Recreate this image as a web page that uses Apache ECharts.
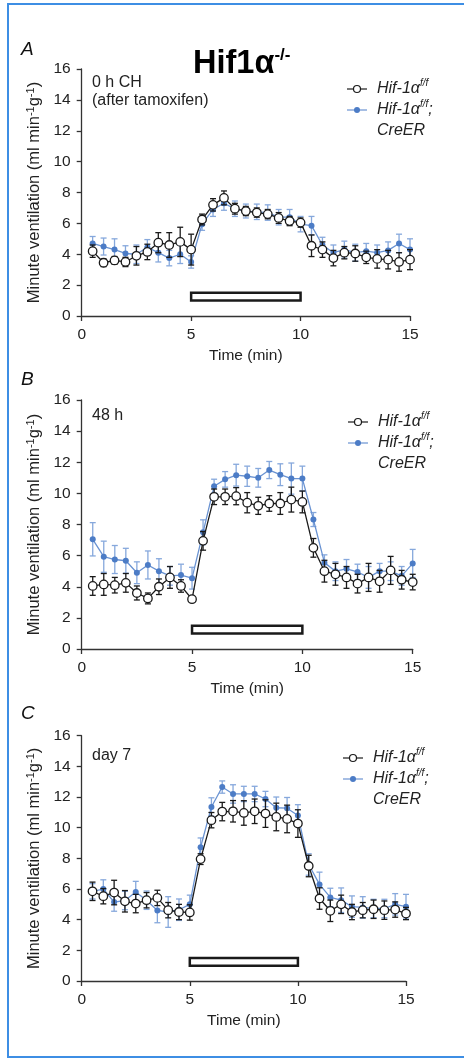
<!DOCTYPE html>
<html>
<head>
<meta charset="utf-8">
<title>Hif1a minute ventilation</title>
<script src="https://cdn.jsdelivr.net/npm/echarts@6/dist/echarts.min.js"></script>
<style>
    html, body { margin: 0; padding: 0; background: #fff; }
    #chart { width: 464px; height: 1062px; }
</style>
</head>
<body>
<div id="chart"></div>
<script>
var times = [0.5, 1, 1.5, 2, 2.5, 3, 3.5, 4, 4.5, 5, 5.5, 6, 6.5, 7, 7.5, 8, 8.5, 9, 9.5, 10,
    10.5, 11, 11.5, 12, 12.5, 13, 13.5, 14, 14.5, 15];

// A: 0 h CH
var ctrlA = [4.2, 3.45, 3.6, 3.5, 3.9, 4.15, 4.75, 4.6, 4.8, 4.3, 6.25, 7.2, 7.65, 6.95, 6.8, 6.7, 6.6, 6.35, 6.15, 6.05,
    4.55, 4.3, 3.75, 4.1, 4.05, 3.8, 3.7, 3.65, 3.5, 3.65];
var ctrlAErr = [0.4, 0.25, 0.25, 0.3, 0.6, 0.5, 0.65, 0.8, 0.95, 1.0, 0.35, 0.4, 0.45, 0.35, 0.3, 0.3, 0.3, 0.35, 0.3, 0.3,
    0.7, 0.5, 0.5, 0.4, 0.5, 0.4, 0.6, 0.6, 0.6, 0.65];
var creA = [4.7, 4.5, 4.3, 4.05, 4.0, 4.45, 4.1, 3.75, 4.0, 3.5, 5.95, 6.9, 7.3, 6.95, 6.8, 6.75, 6.7, 6.4, 6.4, 5.95,
    5.85, 4.6, 4.1, 4.3, 4.1, 4.2, 4.1, 4.25, 4.7, 4.3];
var creAErr = [0.45, 0.55, 0.7, 0.5, 0.6, 0.5, 0.6, 0.5, 0.6, 0.4, 0.4, 0.45, 0.45, 0.5, 0.45, 0.5, 0.5, 0.5, 0.5, 0.5,
    0.6, 0.5, 0.5, 0.55, 0.55, 0.5, 0.5, 0.55, 0.6, 0.7];

// B: 48 h
var ctrlB = [4.05, 4.15, 4.1, 4.25, 3.6, 3.25, 4.0, 4.6, 4.05, 3.2, 6.95, 9.78, 9.78, 9.82, 9.4, 9.2, 9.35, 9.35, 9.6, 9.45,
    6.5, 5.0, 4.8, 4.6, 4.2, 4.6, 4.35, 5.05, 4.45, 4.3];
var ctrlBErr = [0.6, 0.7, 0.5, 0.6, 0.45, 0.35, 0.5, 0.7, 0.4, 0.15, 0.6, 0.5, 0.5, 0.55, 0.65, 0.55, 0.5, 0.7, 0.8, 0.7,
    0.6, 0.7, 0.7, 0.7, 0.6, 0.9, 0.7, 0.9, 0.6, 0.5];
var creB = [7.05, 5.93, 5.75, 5.67, 4.9, 5.4, 5.0, 4.7, 4.75, 4.55, 7.5, 10.46, 10.9, 11.17, 11.1, 11.0, 11.5, 11.2, 10.95, 10.95,
    8.32, 5.55, 5.0, 5.15, 4.95, 4.6, 5.0, 5.0, 4.7, 5.5];
var creBErr = [1.07, 1.0, 0.9, 0.8, 0.7, 0.9, 0.8, 0.6, 0.7, 0.7, 0.8, 0.45, 0.5, 0.7, 0.65, 0.6, 0.55, 0.7, 1.0, 0.8,
    0.45, 0.5, 0.6, 0.6, 0.5, 0.7, 0.5, 0.6, 0.6, 0.9];

// C: day 7
var ctrlC = [5.85, 5.53, 5.77, 5.2, 5.05, 5.27, 5.42, 4.62, 4.5, 4.47, 7.95, 10.49, 11.05, 11.07, 10.96, 11.07, 10.92, 10.7, 10.57, 10.27,
    7.5, 5.38, 4.58, 5.0, 4.5, 4.62, 4.68, 4.62, 4.66, 4.4];
var ctrlCErr = [0.6, 0.5, 0.8, 0.7, 0.6, 0.5, 0.5, 0.5, 0.5, 0.5, 0.35, 0.5, 0.6, 0.7, 0.8, 0.8, 0.9, 0.9, 0.9, 0.9,
    0.7, 0.7, 0.7, 0.6, 0.5, 0.5, 0.6, 0.6, 0.5, 0.4];
var creC = [5.85, 6.0, 5.15, 5.25, 5.8, 5.27, 4.6, 4.5, 4.65, 5.0, 8.73, 11.35, 12.65, 12.2, 12.2, 12.2, 11.87, 11.3, 11.27, 10.8,
    7.6, 6.3, 5.45, 5.27, 4.85, 4.8, 4.73, 4.73, 5.0, 4.85];
var creCErr = [0.5, 0.6, 0.6, 0.6, 0.7, 0.6, 0.8, 1.0, 0.7, 0.6, 0.6, 0.6, 0.4, 0.6, 0.5, 0.5, 0.5, 0.7, 0.7, 0.7,
    0.7, 0.8, 0.6, 0.8, 0.7, 0.7, 0.6, 0.6, 0.7, 0.8];

// hypoxia bar: [start, end, low, high]
var hypoxiaBar = [5, 10, 1.0, 1.5];
var xTicks = [0, 15, 5];   // min, max, step
var yTicks = [0, 16, 2];

var panelLetters = ['A', 'B', 'C'];
var panelNotes = ['0 h CH\n(after tamoxifen)', '48 h', 'day 7'];
var legendNames = ['Hif-1α f/f', 'Hif-1α f/f; CreER'];

var FONT = '"Liberation Sans", Arial, Helvetica, sans-serif';
var BLACK = '#1a1a1a';
var BLUE = '#4c7cc6';
var BLUE_LINE = '#6a93d2';
var BLUE_ERR = '#86a8dc';

var panels = [
    { ctrl: ctrlA, ctrlErr: ctrlAErr, cre: creA, creErr: creAErr,
      grid: { left: 81.7, top: 69, width: 328.3, height: 247 },
      letter: [21, 50], note: [92, 83], legend: [347, 89] },
    { ctrl: ctrlB, ctrlErr: ctrlBErr, cre: creB, creErr: creBErr,
      grid: { left: 81.7, top: 400, width: 331, height: 249 },
      letter: [21, 380], note: [92, 416], legend: [348, 422] },
    { ctrl: ctrlC, ctrlErr: ctrlCErr, cre: creC, creErr: creCErr,
      grid: { left: 81.7, top: 735.7, width: 324.3, height: 245.3 },
      letter: [21, 714], note: [92, 756], legend: [343, 758] }
];

function pairs(vals) {
    return times.map(function (t, i) { return [t, vals[i]]; });
}

function bars(vals, errs) {
    return times.map(function (t, i) { return [t, vals[i] - errs[i], vals[i] + errs[i]]; });
}

function errorBar(color) {
    return function (params, api) {
        var x = api.value(0);
        var lo = api.coord([x, api.value(1)]);
        var hi = api.coord([x, api.value(2)]);
        var w = 3;
        var st = { stroke: color, lineWidth: 1.3 };
        return {
            type: 'group',
            children: [
                { type: 'line', shape: { x1: lo[0], y1: lo[1], x2: hi[0], y2: hi[1] }, style: st },
                { type: 'line', shape: { x1: lo[0] - w, y1: lo[1], x2: lo[0] + w, y2: lo[1] }, style: st },
                { type: 'line', shape: { x1: hi[0] - w, y1: hi[1], x2: hi[0] + w, y2: hi[1] }, style: st }
            ]
        };
    };
}

function hypoxiaRect(params, api) {
    var p1 = api.coord([api.value(0), api.value(3)]);
    var p2 = api.coord([api.value(1), api.value(2)]);
    return {
        type: 'rect',
        shape: { x: p1[0], y: p1[1], width: p2[0] - p1[0], height: p2[1] - p1[1] },
        style: { fill: '#fff', stroke: BLACK, lineWidth: 2.5 }
    };
}

var axisLine = { lineStyle: { color: '#333', width: 1.3 } };
var axisTick = { length: 5, lineStyle: { color: '#333', width: 1.3 } };
var labelStyle = { fontSize: 15.5, color: '#222', fontFamily: FONT };

var grids = [], xAxes = [], yAxes = [], series = [], graphics = [];

panels.forEach(function (p, k) {
    grids.push(p.grid);
    xAxes.push({
        type: 'value', gridIndex: k, min: xTicks[0], max: xTicks[1], interval: xTicks[2],
        name: 'Time (min)', nameLocation: 'middle', nameGap: 32,
        nameTextStyle: { fontSize: 15.5, color: '#222', fontFamily: FONT },
        axisLine: axisLine, axisTick: axisTick, splitLine: { show: false },
        axisLabel: Object.assign({ margin: 11 }, labelStyle)
    });
    yAxes.push({
        type: 'value', gridIndex: k, min: yTicks[0], max: yTicks[1], interval: yTicks[2],
        name: 'Minute ventilation (ml min{sup|-1}g{sup|-1})',
        nameLocation: 'middle', nameRotate: 90, nameGap: 39,
        nameTextStyle: {
            fontSize: 16.5, color: '#222', fontFamily: FONT,
            rich: { sup: { fontSize: 11, color: '#222', fontFamily: FONT, verticalAlign: 'top', lineHeight: 16 } }
        },
        axisLine: axisLine, axisTick: axisTick, splitLine: { show: false },
        axisLabel: Object.assign({ margin: 11 }, labelStyle)
    });

    series.push({
        type: 'custom', xAxisIndex: k, yAxisIndex: k, z: 1, silent: true,
        renderItem: hypoxiaRect, encode: { x: [0, 1], y: [2, 3] }, data: [hypoxiaBar]
    });
    series.push({
        type: 'custom', xAxisIndex: k, yAxisIndex: k, z: 2, silent: true,
        renderItem: errorBar(BLUE_ERR), encode: { x: 0, y: [1, 2] }, data: bars(p.cre, p.creErr)
    });
    series.push({
        name: legendNames[1], type: 'line', xAxisIndex: k, yAxisIndex: k, z: 3, silent: true,
        symbol: 'circle', symbolSize: 6, showAllSymbol: true,
        lineStyle: { color: BLUE_LINE, width: 1.3 },
        itemStyle: { color: BLUE, borderWidth: 0 },
        data: pairs(p.cre)
    });
    series.push({
        type: 'custom', xAxisIndex: k, yAxisIndex: k, z: 4, silent: true,
        renderItem: errorBar(BLACK), encode: { x: 0, y: [1, 2] }, data: bars(p.ctrl, p.ctrlErr)
    });
    series.push({
        name: legendNames[0], type: 'line', xAxisIndex: k, yAxisIndex: k, z: 5, silent: true,
        symbol: 'circle', symbolSize: 8.5, showAllSymbol: true,
        lineStyle: { color: BLACK, width: 1.3 },
        itemStyle: { color: '#fff', borderColor: BLACK, borderWidth: 1.3 },
        data: pairs(p.ctrl)
    });

    // panel letter + condition note
    graphics.push({
        type: 'text', x: p.letter[0], y: p.letter[1],
        style: { text: panelLetters[k], fontSize: 19, fontStyle: 'italic', fontFamily: FONT, fill: '#111', verticalAlign: 'middle' }
    });
    graphics.push({
        type: 'text', x: p.note[0], y: p.note[1] - 9,
        style: { text: panelNotes[k], fontSize: 16, lineHeight: 18, fontFamily: FONT, fill: '#222', verticalAlign: 'top' }
    });

    // legend
    var lx = p.legend[0], ly = p.legend[1];
    var supStyle = { fontSize: 10, fontStyle: 'italic', fontFamily: FONT, fill: '#222', verticalAlign: 'top', lineHeight: 21 };
    var mainStyle = { fontSize: 16, fontStyle: 'italic', fontFamily: FONT, fill: '#222', lineHeight: 21 };
    graphics.push({ type: 'line', shape: { x1: lx, y1: ly, x2: lx + 20, y2: ly }, style: { stroke: BLACK, lineWidth: 1.2 } });
    graphics.push({ type: 'circle', shape: { cx: lx + 10, cy: ly, r: 3.5 }, style: { fill: '#fff', stroke: BLACK, lineWidth: 1.2 } });
    graphics.push({
        type: 'text', x: lx + 30, y: ly,
        style: { text: '{m|Hif-1α}{s|f/f}', verticalAlign: 'middle', rich: { m: mainStyle, s: supStyle } }
    });
    graphics.push({ type: 'line', shape: { x1: lx, y1: ly + 21, x2: lx + 20, y2: ly + 21 }, style: { stroke: BLUE_LINE, lineWidth: 1.2 } });
    graphics.push({ type: 'circle', shape: { cx: lx + 10, cy: ly + 21, r: 3 }, style: { fill: BLUE } });
    graphics.push({
        type: 'text', x: lx + 30, y: ly + 10.5,
        style: { text: '{m|Hif-1α}{s|f/f}{m|;}\n{m|CreER}', verticalAlign: 'top', rich: { m: mainStyle, s: supStyle } }
    });
});

// title and frame
graphics.push({
    type: 'text', x: 193, y: 64,
    style: {
        text: '{m|Hif1α}{s|-/-}', verticalAlign: 'middle',
        rich: {
            m: { fontSize: 32.5, fontWeight: 'bold', fontFamily: FONT, fill: '#000', lineHeight: 34 },
            s: { fontSize: 17, fontWeight: 'bold', fontFamily: FONT, fill: '#000', verticalAlign: 'top', lineHeight: 34 }
        }
    }
});
graphics.push({
    type: 'rect', shape: { x: 8, y: 4, width: 470, height: 1053 },
    style: { fill: 'none', stroke: '#3d8ee4', lineWidth: 2 }
});

var myChart = echarts.init(document.getElementById('chart'));
myChart.setOption({
    animation: false,
    backgroundColor: '#fff',
    grid: grids,
    xAxis: xAxes,
    yAxis: yAxes,
    series: series,
    graphic: graphics
});
</script>
</body>
</html>
